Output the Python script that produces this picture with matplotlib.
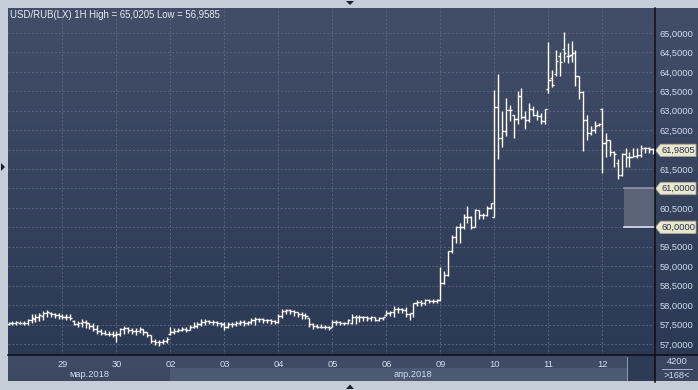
import numpy as np
import matplotlib
matplotlib.use("Agg")
import matplotlib.pyplot as plt
from matplotlib.patches import Rectangle, Polygon
from matplotlib.lines import Line2D
from matplotlib.colors import LinearSegmentedColormap
from matplotlib.transforms import blended_transform_factory

W, H = 698, 390

title = "USD/RUB(LX) 1H High = 65,0205 Low = 56,9585"
day_labels = ["29", "30", "02", "03", "04", "05", "06", "09", "10", "11", "12"]
month_labels = ["мар.2018", "апр.2018"]
bars_per_day = 14
last_price = 61.9805
zone_low, zone_high = 60.0, 61.0
zone_start = 159.7
y_ticks = np.arange(57.0, 65.01, 0.5)
footer_top = "4200"
footer_bottom = ">168<"

# hourly OHLC, one row per session (14 bars)
open_ = [
    57.51, 57.53, 57.55, 57.55, 57.55, 57.53, 57.62, 57.65, 57.70, 57.72, 57.81, 57.79, 57.76, 57.74,
    57.72, 57.70, 57.70, 57.60, 57.51, 57.53, 57.57, 57.53, 57.46, 57.39, 57.33, 57.29, 57.27, 57.26,
    57.24, 57.27, 57.38, 57.41, 57.36, 57.34, 57.33, 57.38, 57.31, 57.22, 57.07, 57.05, 57.05, 57.07,
    57.25, 57.30, 57.33, 57.37, 57.39, 57.37, 57.44, 57.47, 57.51, 57.57, 57.59, 57.57, 57.56, 57.54,
    57.52, 57.45, 57.51, 57.51, 57.54, 57.57, 57.54, 57.56, 57.63, 57.64, 57.64, 57.61, 57.61, 57.59,
    57.56, 57.71, 57.85, 57.87, 57.85, 57.82, 57.78, 57.75, 57.66, 57.52, 57.47, 57.45, 57.45, 57.44,
    57.44, 57.56, 57.56, 57.55, 57.53, 57.55, 57.70, 57.69, 57.69, 57.69, 57.67, 57.69, 57.63, 57.67,
    57.74, 57.80, 57.82, 57.91, 57.89, 57.87, 57.76, 57.79, 58.05, 58.08, 58.06, 58.13, 58.10, 58.10,
    58.13, 58.58, 58.77, 59.38, 59.76, 60.00, 60.00, 60.27, 60.27, 60.02, 60.45, 60.32, 60.32, 60.51,
    60.27, 63.09, 62.29, 62.47, 63.02, 62.89, 62.80, 63.38, 62.85, 62.76, 63.04, 62.89, 62.86, 62.74,
    63.55, 63.83, 63.95, 64.41, 64.58, 64.41, 64.44, 64.49, 63.89, 63.49, 62.76, 62.42, 62.50, 62.64,
    63.04, 62.16, 62.25, 61.95, 61.65, 61.35, 61.90, 61.80, 61.80, 61.84, 61.86, 62.03, 62.03, 62.01,
]
high = [
    57.57, 57.58, 57.60, 57.58, 57.58, 57.65, 57.76, 57.76, 57.79, 57.86, 57.88, 57.82, 57.79, 57.81,
    57.77, 57.76, 57.76, 57.62, 57.60, 57.64, 57.62, 57.55, 57.53, 57.50, 57.39, 57.36, 57.33, 57.33,
    57.33, 57.41, 57.46, 57.43, 57.41, 57.41, 57.43, 57.38, 57.31, 57.22, 57.12, 57.10, 57.12, 57.17,
    57.44, 57.40, 57.42, 57.44, 57.44, 57.49, 57.56, 57.57, 57.64, 57.64, 57.61, 57.61, 57.59, 57.57,
    57.57, 57.56, 57.57, 57.59, 57.63, 57.61, 57.59, 57.68, 57.69, 57.68, 57.66, 57.64, 57.64, 57.61,
    57.78, 57.90, 57.90, 57.90, 57.87, 57.83, 57.82, 57.80, 57.66, 57.54, 57.51, 57.51, 57.49, 57.47,
    57.63, 57.62, 57.58, 57.56, 57.65, 57.77, 57.74, 57.74, 57.72, 57.72, 57.72, 57.70, 57.70, 57.70,
    57.87, 57.86, 57.98, 57.94, 57.93, 57.96, 57.80, 58.05, 58.13, 58.13, 58.17, 58.15, 58.15, 58.17,
    58.99, 58.88, 59.40, 59.80, 60.03, 60.12, 60.34, 60.55, 60.29, 60.46, 60.45, 60.38, 60.55, 60.63,
    63.53, 63.94, 63.00, 63.32, 63.15, 62.89, 63.52, 63.58, 63.00, 63.21, 63.12, 63.02, 62.95, 63.04,
    64.77, 64.05, 64.56, 64.52, 65.02, 64.75, 64.80, 64.56, 63.89, 63.51, 62.89, 62.62, 62.74, 62.69,
    63.06, 62.42, 62.25, 61.97, 61.75, 61.92, 62.03, 61.95, 62.03, 62.03, 62.12, 62.08, 62.06, 62.03,
]
low = [
    57.50, 57.50, 57.50, 57.51, 57.50, 57.48, 57.53, 57.57, 57.58, 57.63, 57.69, 57.69, 57.67, 57.65,
    57.65, 57.63, 57.63, 57.48, 57.45, 57.43, 57.41, 57.39, 57.34, 57.27, 57.24, 57.22, 57.21, 57.19,
    57.06, 57.21, 57.27, 57.29, 57.27, 57.24, 57.29, 57.24, 57.17, 57.02, 56.98, 56.96, 57.00, 57.02,
    57.23, 57.25, 57.30, 57.33, 57.32, 57.37, 57.40, 57.42, 57.47, 57.49, 57.51, 57.49, 57.47, 57.44,
    57.37, 57.40, 57.44, 57.47, 57.49, 57.47, 57.49, 57.51, 57.49, 57.57, 57.54, 57.54, 57.52, 57.51,
    57.55, 57.66, 57.78, 57.76, 57.73, 57.69, 57.64, 57.64, 57.44, 57.39, 57.40, 57.40, 57.39, 57.37,
    57.44, 57.48, 57.48, 57.48, 57.51, 57.51, 57.51, 57.56, 57.60, 57.60, 57.60, 57.58, 57.60, 57.62,
    57.72, 57.72, 57.69, 57.80, 57.80, 57.70, 57.63, 57.70, 57.98, 57.99, 58.01, 58.05, 58.05, 58.06,
    58.10, 58.54, 58.75, 59.35, 59.60, 59.60, 59.95, 60.12, 59.95, 60.00, 60.21, 60.21, 60.29, 60.46,
    60.26, 61.75, 62.06, 62.35, 62.74, 62.29, 62.66, 62.78, 62.52, 62.72, 62.86, 62.76, 62.66, 62.66,
    63.46, 63.62, 63.89, 63.89, 64.26, 64.24, 64.26, 63.64, 63.29, 61.97, 62.26, 62.38, 62.44, 62.61,
    61.41, 61.80, 61.84, 61.56, 61.24, 61.32, 61.56, 61.56, 61.80, 61.78, 61.82, 61.92, 61.92, 61.89,
]
close = [
    57.53, 57.55, 57.57, 57.55, 57.53, 57.62, 57.67, 57.70, 57.74, 57.81, 57.82, 57.76, 57.74, 57.72,
    57.70, 57.70, 57.67, 57.51, 57.53, 57.57, 57.53, 57.46, 57.39, 57.33, 57.29, 57.27, 57.26, 57.24,
    57.27, 57.38, 57.41, 57.36, 57.34, 57.33, 57.38, 57.31, 57.24, 57.07, 57.05, 57.05, 57.07, 57.12,
    57.30, 57.33, 57.37, 57.39, 57.37, 57.44, 57.47, 57.51, 57.57, 57.59, 57.57, 57.56, 57.54, 57.52,
    57.45, 57.51, 57.51, 57.54, 57.57, 57.54, 57.56, 57.63, 57.64, 57.64, 57.61, 57.61, 57.59, 57.56,
    57.71, 57.85, 57.87, 57.85, 57.82, 57.78, 57.75, 57.73, 57.52, 57.47, 57.45, 57.45, 57.44, 57.42,
    57.56, 57.56, 57.55, 57.53, 57.62, 57.70, 57.69, 57.69, 57.69, 57.67, 57.69, 57.63, 57.67, 57.69,
    57.80, 57.82, 57.91, 57.89, 57.87, 57.76, 57.79, 58.05, 58.08, 58.06, 58.13, 58.10, 58.10, 58.13,
    58.58, 58.77, 59.38, 59.76, 60.00, 60.00, 60.27, 60.27, 60.02, 60.45, 60.32, 60.32, 60.51, 60.62,
    63.09, 62.29, 62.47, 63.02, 63.02, 62.80, 63.38, 62.85, 62.76, 63.04, 62.89, 62.86, 62.74, 63.04,
    63.79, 63.65, 64.29, 64.26, 64.48, 64.41, 64.49, 63.89, 63.49, 62.76, 62.42, 62.50, 62.61, 62.66,
    62.16, 62.25, 61.95, 61.90, 61.35, 61.90, 61.80, 61.80, 61.84, 61.86, 62.03, 62.03, 62.01, 61.98,
]

plt.rcParams["font.family"] = ["Liberation Sans", "DejaVu Sans"]
FS = 6.7
LBL = "#cfdcee"

fig = plt.figure(figsize=(W / 100, H / 100), dpi=100)
fig.patch.set_facecolor("#c5cdd9")


def box(x0, y0, x1, y1):
    # pixel box (from top-left) -> figure rect
    return [x0 / W, 1 - y1 / H, (x1 - x0) / W, (y1 - y0) / H]


def fx(x):
    return x / W


def fy(y):
    return 1 - y / H


# time scale panel (drawn first, under the axes tick labels)
bars_px = (655 - 8) / (167.62 + 0.13)
apr_px = 8 + (bars_per_day * 3 + 0.13) * bars_px
for (x0, y0, x1, y1), c in [((8, 355, 655, 368), "#3f4b64"),
                            ((8, 368, apr_px, 381), "#3d4961"),
                            ((apr_px, 368, 627, 381), "#4c5972"),
                            ((627, 355, 655, 381), "#2e3b55"),
                            ((655, 355, 698, 381), "#3a4660")]:
    fig.patches.append(Rectangle((fx(x0), fy(y1)), (x1 - x0) / W, (y1 - y0) / H,
                                 transform=fig.transFigure, facecolor=c, edgecolor="none", zorder=-5))

# gradient behind plot + price scale
bg = fig.add_axes(box(8, 8, 698, 355))
bg.set_zorder(-2)
cmap = LinearSegmentedColormap.from_list("bg", ["#424e68", "#2c3954"])
bg.imshow(np.linspace(0, 1, 256)[:, None], aspect="auto", cmap=cmap, extent=[0, 1, 0, 1])
bg.axis("off")

ax = fig.add_axes(box(8, 8, 655, 355))
ax.set_zorder(2)
ax.set_facecolor("none")
for s in ax.spines.values():
    s.set_visible(False)

x = np.arange(len(close))
tk = 0.55
ax.vlines(x, low, high, color="white", lw=1.0, zorder=3)
ax.hlines(open_, x - tk, x, color="white", lw=1.0, zorder=3)
ax.hlines(close, x, x + tk, color="white", lw=1.0, zorder=3)

ax.set_xlim(-0.13, 167.62)
ax.set_ylim(56.717, 65.643)

# range box on the right
x_right = ax.get_xlim()[1]
ax.add_patch(Rectangle((zone_start, zone_low), x_right - zone_start, zone_high - zone_low,
                       facecolor="#5a6378", edgecolor="none", zorder=2))
ax.plot([zone_start, x_right], [zone_high, zone_high], color="#8e95a4", lw=1.2, zorder=2)
ax.plot([zone_start, x_right], [zone_low, zone_low], color="#dde1e8", lw=1.2, zorder=2)

# axes ticks and grid
day_pos = [bars_per_day * (k + 1) for k in range(len(day_labels))]
ax.set_xticks(day_pos)
ax.set_xticklabels(day_labels)
ax.yaxis.tick_right()
ax.set_yticks(y_ticks)
marked = [last_price, zone_low, zone_high]
ax.set_yticklabels(["" if min(abs(v - m) for m in marked) < 0.1 else f"{v:.4f}".replace(".", ",")
                    for v in y_ticks])
ax.tick_params(axis="y", length=0, pad=3, labelsize=FS, labelcolor=LBL)
ax.tick_params(axis="x", length=0, pad=3.6, labelsize=FS, labelcolor=LBL)
ax.grid(True, color="#58647d", lw=0.7, ls=(0, (2, 2)), zorder=1)

# highlighted price labels
tr = blended_transform_factory(fig.transFigure, ax.transData)
ppu = (355 - 8) / (ax.get_ylim()[1] - ax.get_ylim()[0])
hh = 6.2 / ppu
for v in marked:
    pts = [(fx(655.5), v), (fx(660.5), v + hh), (fx(696), v + hh), (fx(696), v - hh), (fx(660.5), v - hh)]
    ax.add_patch(Polygon(pts, closed=True, transform=tr, facecolor="#e9e7cf",
                         edgecolor="#a6a58f", lw=0.6, clip_on=False, zorder=5))
    ax.text(fx(661), v, f"{v:.4f}".replace(".", ","), transform=tr, ha="left", va="center",
            fontsize=FS, color="#263246", clip_on=False, zorder=6)

fig.text(fx((8 + apr_px) / 2), fy(374.5), month_labels[0], ha="center", va="center",
         fontsize=FS, color=LBL)
fig.text(fx((apr_px + 655) / 2), fy(374.5), month_labels[1], ha="center", va="center",
         fontsize=FS, color=LBL)

fig.lines.extend([
    Line2D([fx(627), fx(627)], [fy(357), fy(380)], transform=fig.transFigure, color="#8a94a6", lw=0.8),
    Line2D([fx(8), fx(698)], [fy(355), fy(355)], transform=fig.transFigure, color="#0c0f16", lw=1.1),
    Line2D([fx(655), fx(655)], [fy(8), fy(381.5)], transform=fig.transFigure, color="#0c0f16", lw=1.1),
    Line2D([fx(662), fx(692)], [fy(368.5), fy(368.5)], transform=fig.transFigure, color="#b8c6da", lw=0.6),
])
fig.text(fx(677), fy(362), footer_top, ha="center", va="center", fontsize=FS, color=LBL)
fig.text(fx(677), fy(375.5), footer_bottom, ha="center", va="center", fontsize=FS, color=LBL)

fig.text(fx(10), fy(14.5), title, ha="left", va="center", fontsize=6.9, color="#e6edf7")

# little scroll arrows in the frame
for p in ([(346, 1), (354, 1), (350, 5)], [(346, 389), (354, 389), (350, 384.5)],
          [(1, 163), (1, 171), (5, 167)]):
    fig.patches.append(Polygon([(fx(a), fy(b)) for a, b in p], closed=True,
                               transform=fig.transFigure, facecolor="#1b202b", edgecolor="none"))

fig.savefig("out.png", dpi=100, facecolor=fig.get_facecolor())
